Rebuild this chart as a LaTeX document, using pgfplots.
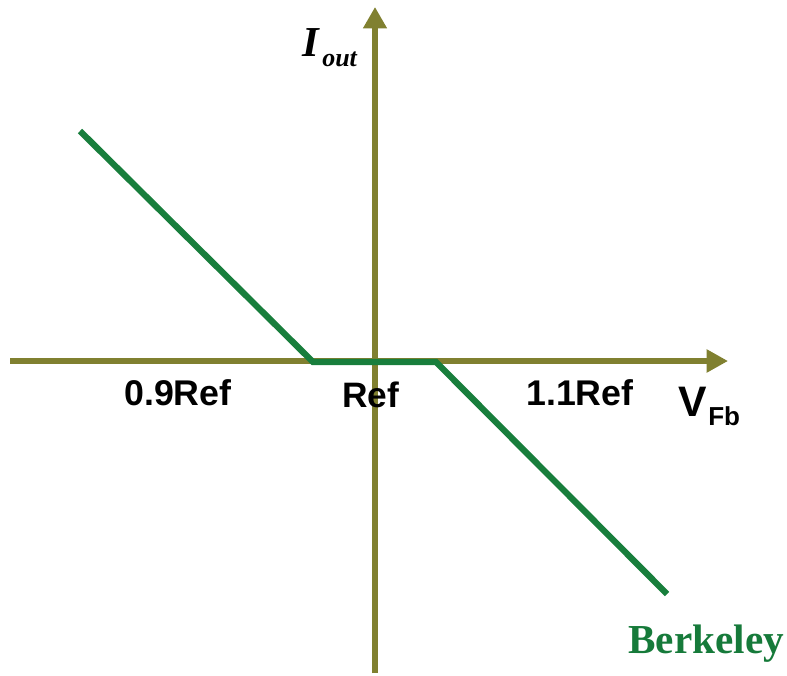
\documentclass[border=0pt]{standalone}
\usepackage{pgfplots}
\pgfplotsset{compat=1.18}
\usepackage{fontspec}
\setmainfont{Liberation Serif}
\newfontfamily\arial{Liberation Sans}
\usetikzlibrary{arrows.meta}
\definecolor{olive}{RGB}{128,128,48}
\definecolor{bgreen}{RGB}{24,126,60}
\definecolor{berk}{RGB}{22,122,58}
\begin{document}
\begin{tikzpicture}
\begin{axis}[
  scale only axis, width=590.25pt, height=506.25pt,
  xmin=0, xmax=787, ymin=0, ymax=675,
  axis lines=none, clip=false,
]
\path (axis cs:0,0) rectangle (axis cs:787,675);
% axes
\addplot[olive, line width=3.9pt, -{Triangle[length=16pt,width=16.5pt]}] coordinates {(10,314) (728,314)};
\addplot[olive, line width=3.9pt, -{Triangle[length=16pt,width=17pt]}] coordinates {(375,2) (375,668)};
% characteristic
\addplot[bgreen, line width=4.7pt] coordinates {(80,544) (313,313) (436,313) (667,81)};
% labels
\node[anchor=base west, inner sep=0pt] at (axis cs:124,270) {\arial\bfseries\fontsize{26.8pt}{30pt}\selectfont 0.9Ref};
\node[anchor=base west, inner sep=0pt] at (axis cs:526,270) {\arial\bfseries\fontsize{26.8pt}{30pt}\selectfont 1.1Ref};
\node[anchor=base west, inner sep=0pt] at (axis cs:342,268) {\arial\bfseries\fontsize{26.5pt}{30pt}\selectfont Ref};
\node[anchor=base west, inner sep=0pt] at (axis cs:678,259) {\arial\bfseries\fontsize{32pt}{36pt}\selectfont V};
\node[anchor=base west, inner sep=0pt] at (axis cs:708,250) {\arial\bfseries\fontsize{19.5pt}{22pt}\selectfont Fb};
\node[anchor=base west, inner sep=0pt] at (axis cs:302,618) {\bfseries\itshape\fontsize{32pt}{36pt}\selectfont I};
\node[anchor=base west, inner sep=0pt] at (axis cs:322,608) {\bfseries\itshape\fontsize{19.5pt}{22pt}\selectfont out};
\node[anchor=base west, inner sep=0pt, text=berk] at (axis cs:628,22) {\bfseries\fontsize{30.9pt}{34pt}\selectfont Berkeley};
\end{axis}
\end{tikzpicture}
\end{document}
